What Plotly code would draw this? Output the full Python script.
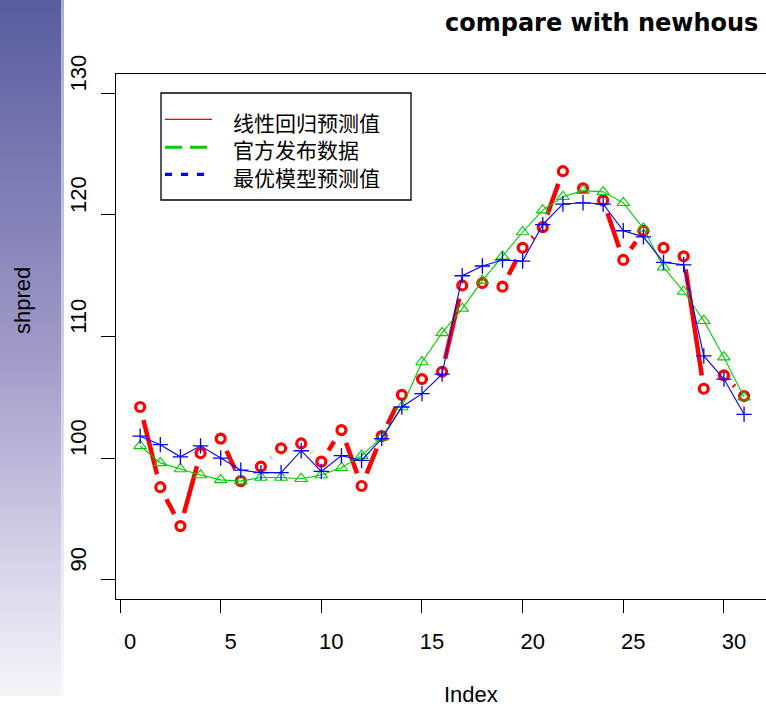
import plotly.graph_objects as go

# ---------------- data ----------------
index = list(range(1, 32))
linear_pred = [104.2, 97.6, 94.4, 100.4, 101.6, 98.1, 99.3, 100.8, 101.2, 99.7,
               102.3, 97.7, 101.8, 105.2, 106.5, 107.1, 114.2, 114.4, 114.1, 117.3,
               119.0, 123.6, 122.2, 121.2, 116.3, 118.7, 117.3, 116.6, 105.7, 106.8, 105.1]
official = [101.0, 99.6, 99.1, 98.6, 98.2, 98.1, 98.4, 98.4, 98.3, 98.6,
            99.2, 100.2, 101.7, 104.2, 107.9, 110.3, 112.3, 114.6, 116.6, 118.6,
            120.4, 121.5, 122.0, 121.9, 121.0, 118.9, 115.7, 113.7, 111.3, 108.3, 105.0]
best_model = [101.8, 101.1, 100.1, 101.0, 100.0, 99.0, 98.8, 98.8, 100.6, 98.9,
              100.2, 99.8, 101.6, 104.2, 105.3, 106.9, 115.0, 115.8, 116.3, 116.2,
              119.2, 120.9, 121.0, 120.9, 118.7, 118.2, 116.1, 115.9, 108.4, 106.5, 103.6]
x_ticks = [0, 5, 10, 15, 20, 25, 30]
y_ticks = [90, 100, 110, 120, 130]
legend_labels = ["线性回归预测值", "官方发布数据", "最优模型预测值"]
title_text = "compare with newhous"
x_title = "Index"
y_title = "shpred"

# ---------------- geometry helpers (pixels -> paper) ----------------
W, H = 766, 707
L, R, T, B = 116, 0, 74, 108
PW, PH = W - L - R, H - T - B


def xp(px):
    return (px - L) / PW


def yp(py):
    return (H - B - py) / PH


RED = "#FF0000"
GREEN = "#00CD00"
BLUE = "#0000FF"

fig = go.Figure()

# red: thick line, broken around points (type = "b")
fig.add_trace(go.Scatter(x=index, y=linear_pred, mode="lines",
                         line=dict(color=RED, width=4.5), hoverinfo="skip",
                         showlegend=False))
fig.add_trace(go.Scatter(x=index, y=linear_pred, mode="markers",
                         marker=dict(symbol="circle", size=27, color="white",
                                     line=dict(width=0)),
                         hoverinfo="skip", showlegend=False))
fig.add_trace(go.Scatter(x=index, y=linear_pred, mode="markers",
                         marker=dict(symbol="circle-open", size=9,
                                     color=RED, line=dict(color=RED, width=3.2)),
                         showlegend=False, name=legend_labels[0]))
# green official data
fig.add_trace(go.Scatter(x=index, y=official, mode="lines+markers",
                         line=dict(color=GREEN, width=1.1),
                         marker=dict(symbol="triangle-up-open", size=11,
                                     color=GREEN, line=dict(color=GREEN, width=1.1)),
                         showlegend=False, name=legend_labels[1]))
# blue best model
fig.add_trace(go.Scatter(x=index, y=best_model, mode="lines+markers",
                         line=dict(color=BLUE, width=1.1),
                         marker=dict(symbol="cross-thin-open", size=11,
                                     color=BLUE, line=dict(color=BLUE, width=1.3)),
                         showlegend=False, name=legend_labels[2]))

shapes = []
# left gradient band
stops = [(0, (88, 92, 158)), (350, (160, 153, 200)), (560, (214, 210, 232)), (692, (244, 244, 249))]


def col_at(py):
    for (a, ca), (b, cb) in zip(stops[:-1], stops[1:]):
        if a <= py <= b:
            t = (py - a) / (b - a)
            return tuple(int(round(ca[i] + (cb[i] - ca[i]) * t)) for i in range(3))
    return stops[-1][1]


step = 6
for py in range(0, 692, step):
    c = col_at(py + step / 2)
    shapes.append(dict(type="rect", xref="paper", yref="paper",
                       x0=xp(0), x1=xp(61), y0=yp(py + step), y1=yp(py),
                       fillcolor="rgb(%d,%d,%d)" % c, line=dict(width=0), layer="below"))
    c2 = tuple(int(round(v + (255 - v) * 0.5)) for v in c)
    shapes.append(dict(type="rect", xref="paper", yref="paper",
                       x0=xp(61), x1=xp(64), y0=yp(py + step), y1=yp(py),
                       fillcolor="rgb(%d,%d,%d)" % c2, line=dict(width=0), layer="below"))

# legend box
shapes.append(dict(type="rect", xref="paper", yref="paper",
                   x0=xp(161), x1=xp(411), y0=yp(200), y1=yp(93),
                   line=dict(color="black", width=1.3), fillcolor="rgba(0,0,0,0)"))
leg_y = [119.3, 147.3, 174.3]
leg_styles = [dict(color=RED, width=1.2, dash="solid"),
              dict(color=GREEN, width=3, dash="17px,8px"),
              dict(color=BLUE, width=3.2, dash="7px,9px")]
for yy, st in zip(leg_y, leg_styles):
    shapes.append(dict(type="line", xref="paper", yref="paper",
                       x0=xp(165), x1=xp(212), y0=yp(yy), y1=yp(yy), line=st))

annotations = []
annotations.append(dict(text="<br>".join(legend_labels), xref="paper", yref="paper",
                        x=xp(231), y=yp(149.5), xanchor="left", yanchor="middle",
                        align="left", showarrow=False,
                        font=dict(family="Noto Sans CJK SC", size=21, color="black")))
annotations.append(dict(text="<b>%s</b>" % title_text, xref="paper", yref="paper",
                        x=xp(443), y=yp(23), xanchor="left", yanchor="middle",
                        showarrow=False,
                        font=dict(family="DejaVu Sans", size=24, color="black")))
annotations.append(dict(text=x_title, xref="paper", yref="paper", x=xp(471), y=yp(694),
                        xanchor="center", yanchor="middle", showarrow=False,
                        font=dict(family="Liberation Sans", size=22, color="black")))
annotations.append(dict(text=y_title, xref="paper", yref="paper", x=xp(22), y=yp(301),
                        xanchor="center", yanchor="middle", showarrow=False, textangle=-90,
                        font=dict(family="Liberation Sans", size=22, color="black")))

fig.update_layout(
    width=W, height=H,
    margin=dict(l=L, r=R, t=T, b=B, pad=0),
    paper_bgcolor="white", plot_bgcolor="white",
    shapes=shapes, annotations=annotations,
    showlegend=False,
    font=dict(family="Liberation Sans", size=22, color="black"),
    xaxis=dict(range=[-0.2, -0.2 + PW / 20.13], tickvals=x_ticks,
               ticktext=[str(v) for v in x_ticks],
               ticks="outside", ticklen=13, tickwidth=1.3, tickcolor="black",
               showline=True, linecolor="black", linewidth=1.3, mirror=True,
               showgrid=False, zeroline=False, ticklabelshift=10,
               ticklabelstandoff=9,
               tickfont=dict(family="Liberation Sans", size=22, color="black")),
    yaxis=dict(range=[88.4, 131.6], tickvals=y_ticks,
               ticktext=[str(v) for v in y_ticks],
               ticks="outside", ticklen=14, tickwidth=1.3, tickcolor="black",
               showline=True, linecolor="black", linewidth=1.3, mirror=False,
               showgrid=False, zeroline=False, tickangle=-90, ticklabelshift=-17,
               ticklabelstandoff=6,
               tickfont=dict(family="Liberation Sans", size=22, color="black")),
)

fig.write_html("out.html", config={"displayModeBar": False},
               post_script="document.body.style.margin='0';document.body.style.padding='0';")
